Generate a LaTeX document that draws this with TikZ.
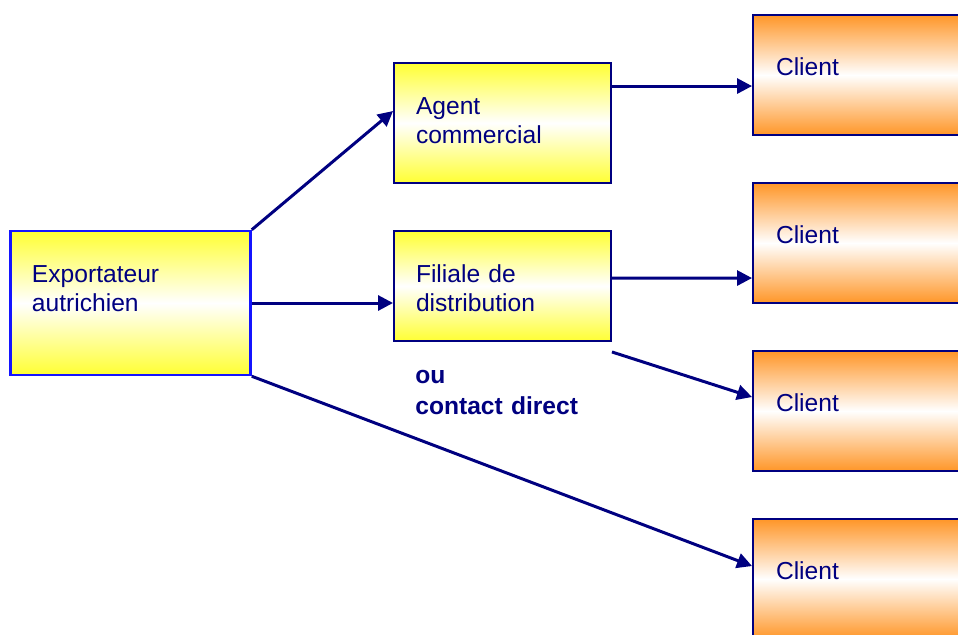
\documentclass[tikz,border=0pt]{standalone}
\usepackage{fontspec}
\setmainfont{Liberation Sans}
\usetikzlibrary{arrows.meta, calc}
\definecolor{navyline}{RGB}{0,0,128}
\definecolor{expblue}{RGB}{20,20,255}
\definecolor{boxyellow}{RGB}{255,255,51}
\definecolor{clientorange}{RGB}{255,150,40}

\begin{document}
\begin{tikzpicture}[x=0.2mm, y=-0.2mm, font=\fontsize{14}{16.5}\selectfont,
    every node/.style={text=navyline, inner sep=0pt, align=left, text height=10pt},
    yellowbox/.style={draw=navyline, line width=1.1pt, top color=boxyellow, bottom color=boxyellow, middle color=white},
    clientbox/.style={draw=navyline, line width=1.1pt, top color=clientorange, bottom color=clientorange, middle color=white,
        minimum width=52mm, minimum height=24mm, text width=42.8mm, text depth=9pt},
    link/.style={-{Triangle[length=3mm, width=3mm]}, draw=navyline, line width=1.7pt}]
    \clip (0, 0) rectangle (958, 634);

    % left box and the two middle boxes
    \node[yellowbox, draw=expblue, line width=1.4pt, minimum width=48mm, minimum height=28.8mm, text width=39.4mm, text depth=33.8pt] at (130.5, 303) (exp) {Exportateur\\autrichien};
    \node[yellowbox, minimum width=43.4mm, minimum height=24mm, text width=34.6mm, text depth=20.2pt] at (502.5, 123) (agent) {Agent\\commercial};
    \node[yellowbox, minimum width=43.4mm, minimum height=22mm, text width=34.6mm, text depth=14.5pt] at (502.5, 286) (filiale) {Filiale de\\distribution};
    \node[font=\fontsize{14}{18}\selectfont\bfseries, text width=40mm, text height=, anchor=base west] at (415, 383) (direct) {ou\\contact direct};

    % clients
    \node[clientbox] at (883, 75) (client1) {Client};
    \node[clientbox] at (883, 243) (client2) {Client};
    \node[clientbox] at (883, 411) (client3) {Client};
    \node[clientbox] at (883, 579) (client4) {Client};

    \draw[link] (exp.north east) -- ($(agent.north west)+(0,49)$);
    \draw[link] (exp.east) -- (exp.east -| filiale.west);
    \draw[link] (exp.south east) -- ($(client4.north west)+(0,48)$);
    \draw[link] ($(agent.north east)+(0,24)$) -- ($(client1.north west)+(0,72)$);
    \draw[link] ($(filiale.north east)+(0,48)$) -- ($(client2.north west)+(0,96)$);
    \draw[link] ($(filiale.south east)+(0,10)$) -- ($(client3.north west)+(0,47)$);
\end{tikzpicture}
\end{document}
